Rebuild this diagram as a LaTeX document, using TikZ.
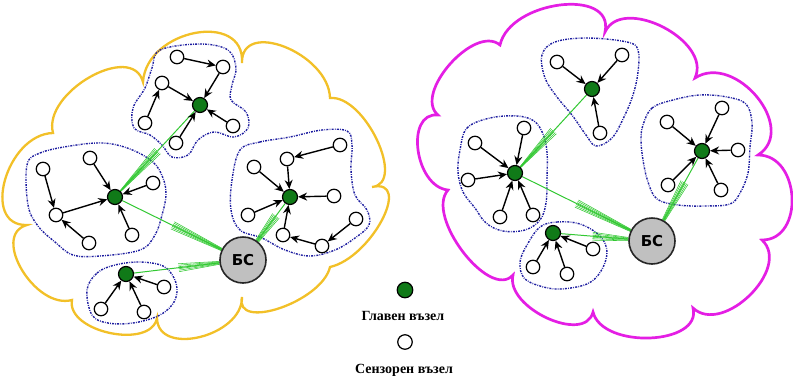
\documentclass[tikz,border=0pt]{standalone}
\usepackage{fontspec}
\setmainfont{Liberation Serif}
\newfontfamily\bsfont{DejaVu Sans}
\usetikzlibrary{arrows.meta,calc}
\pgfdeclarelayer{bg}
\pgfsetlayers{bg,main}
\definecolor{hgreen}{RGB}{16,122,24}
\definecolor{lgreen}{RGB}{50,200,50}
\definecolor{bsgray}{RGB}{192,192,192}
\definecolor{cblue}{RGB}{30,30,160}
\definecolor{cyellow}{RGB}{242,192,40}
\definecolor{cmag}{RGB}{228,30,228}
\tikzset{
  wnode/.style={circle,draw=black,fill=white,line width=1.2pt,minimum size=13.5pt,inner sep=0pt},
  gnode/.style={circle,draw=black,fill=hgreen,line width=1.2pt,minimum size=15pt,inner sep=0pt},
  bsnode/.style={circle,draw=black!85,fill=bsgray,line width=1.6pt,minimum size=46pt,inner sep=0pt,font=\bsfont\bfseries\fontsize{15}{15}\selectfont},
  arr/.style={-{Stealth[length=9pt,width=8pt,inset=3pt]},line width=1.4pt},
  glink/.style={draw=lgreen,line width=1pt},
  glinkthin/.style={draw=lgreen,line width=0.55pt},
  clust/.style={draw=cblue,line width=1.4pt,dash pattern=on 2pt off 1.2pt on 0.8pt off 1.2pt},
  cloudy/.style={draw=cyellow,line width=2.3pt},
  cloudm/.style={draw=cmag,line width=2.7pt},
  legtext/.style={font=\bfseries\fontsize{14}{15}\selectfont}
}
\newcommand\glinkfan[3]{%
  \draw[glink] (#1) -- (#2);
  \foreach \o in {-4pt,-2.5pt,-1pt,1pt,2.5pt,4pt}{
    \draw[glinkthin] (#1) -- ($(#1)!#3!(#2)!\o!90:(#2)$);
  }
}
\begin{document}
\begin{tikzpicture}[x=1pt,y=-1pt]
\useasboundingbox (0,0) rectangle (793,381);

% ---------- nodes: left cloud ----------
\node[gnode] (H1) at (200,105) {};
\node[wnode] (a1) at (177,57) {};
\node[wnode] (a2) at (223,67) {};
\node[wnode] (a3) at (162,83) {};
\node[wnode] (a4) at (145,123) {};
\node[wnode] (a5) at (176,143) {};
\node[wnode] (a6) at (233,126) {};

\node[gnode] (H2) at (115,197) {};
\node[wnode] (b1) at (90,158) {};
\node[wnode] (b2) at (43,169) {};
\node[wnode] (b3) at (153,183) {};
\node[wnode] (b4) at (56,215) {};
\node[wnode] (b5) at (89,243) {};
\node[wnode] (b6) at (132,235) {};

\node[gnode] (H3) at (290,197) {};
\node[wnode] (c1) at (254,167) {};
\node[wnode] (c2) at (287,159) {};
\node[wnode] (c3) at (340,145) {};
\node[wnode] (c4) at (334,196) {};
\node[wnode] (c5) at (248,215) {};
\node[wnode] (c6) at (283,235) {};
\node[wnode] (c7) at (322,246) {};
\node[wnode] (c8) at (356,219) {};

\node[gnode] (H4) at (126,274) {};
\node[wnode] (d1) at (164,287) {};
\node[wnode] (d2) at (101,309) {};
\node[wnode] (d3) at (144,312) {};

\node[bsnode] (BS1) at (243,260) {БС};

% ---------- nodes: right cloud ----------
\node[gnode] (G1) at (592,89) {};
\node[wnode] (e1) at (557,62) {};
\node[wnode] (e2) at (622,55) {};
\node[wnode] (e3) at (600,133) {};

\node[gnode] (G2) at (515,173) {};
\node[wnode] (f1) at (475,143) {};
\node[wnode] (f2) at (524,128) {};
\node[wnode] (f3) at (468,180) {};
\node[wnode] (f4) at (500,217) {};
\node[wnode] (f5) at (533,215) {};

\node[gnode] (G3) at (702,151) {};
\node[wnode] (g1) at (667,122) {};
\node[wnode] (g2) at (722,108) {};
\node[wnode] (g3) at (738,150) {};
\node[wnode] (g4) at (668,185) {};
\node[wnode] (g5) at (721,190) {};

\node[gnode] (G4) at (553,233) {};
\node[wnode] (h1) at (593,249) {};
\node[wnode] (h2) at (533,267) {};
\node[wnode] (h3) at (567,274) {};

\node[bsnode] (BS2) at (652,241) {БС};

% ---------- legend ----------
\node[gnode,minimum size=15.5pt] (L1) at (405,290) {};
\node[legtext] (T1) at (403,316) {Главен възел};
\node[wnode,minimum size=14.5pt] (L2) at (405,342) {};
\node[legtext] (T2) at (404,370) {Сензорен възел};

% ---------- arrows ----------
\draw[arr] (a1) -- (a2);
\draw[arr] (a2) -- (H1);
\draw[arr] (a3) -- (H1);
\draw[arr] (a4) -- (a3);
\draw[arr] (a5) -- (H1);
\draw[arr] (a6) -- (H1);

\draw[arr] (b1) -- (H2);
\draw[arr] (b2) -- (b4);
\draw[arr] (b4) -- (H2);
\draw[arr] (b5) -- (b4);
\draw[arr] (b3) -- (H2);
\draw[arr] (b6) -- (H2);

\draw[arr] (c1) -- (H3);
\draw[arr] (c3) -- (c2);
\draw[arr] (c2) -- (H3);
\draw[arr] (c4) -- (H3);
\draw[arr] (c5) -- (H3);
\draw[arr] (c6) -- (H3);
\draw[arr] (c7) -- (c6);
\draw[arr] (c8) -- (c7);

\draw[arr] (d1) -- (H4);
\draw[arr] (d2) -- (H4);
\draw[arr] (d3) -- (H4);

\foreach \n in {e1,e2,e3} \draw[arr] (\n) -- (G1);
\foreach \n in {f1,f2,f3,f4,f5} \draw[arr] (\n) -- (G2);
\foreach \n in {g1,g2,g3,g4,g5} \draw[arr] (\n) -- (G3);
\foreach \n in {h1,h2,h3} \draw[arr] (\n) -- (G4);

% ---------- background ----------
\begin{pgfonlayer}{bg}
% left cloud
\draw[cloudy] (53,133) .. controls (42.3,92.3) and (132.3,41.3) .. (143,82)
  .. controls (146.3,29.3) and (245.3,10.3) .. (242,63)
  .. controls (240.7,18.3) and (328.7,53.3) .. (330,98)
  .. controls (364.7,94.7) and (406.7,183.7) .. (372,187)
  .. controls (413.3,177.7) and (371.3,257.7) .. (330,267)
  .. controls (322,301.7) and (234,331.7) .. (242,297)
  .. controls (242.7,336.3) and (157.7,357.3) .. (157,318)
  .. controls (151,350) and (66,332) .. (72,300)
  .. controls (35.3,310) and (-9.7,235) .. (27,225)
  .. controls (-19.7,226.3) and (6.3,134.3) .. (53,133) -- cycle;
% right cloud
\draw[cloudm] (438,115) .. controls (412.7,93.7) and (474.7,23.7) .. (500,45)
  .. controls (510,0.3) and (615,-12.7) .. (605,32)
  .. controls (622.3,-5.3) and (712.3,40.7) .. (695,78)
  .. controls (735.7,52) and (798.7,129) .. (758,155)
  .. controls (800.7,155) and (804.7,240) .. (762,240)
  .. controls (792,268) and (723,336) .. (693,308)
  .. controls (702.3,345.3) and (602.3,349.3) .. (593,312)
  .. controls (585,344.7) and (505,307.7) .. (513,275)
  .. controls (489.7,301) and (424.7,216) .. (448,190)
  .. controls (414.7,186.7) and (404.7,111.7) .. (438,115) -- cycle;

% cluster outlines
\draw[clust] plot[smooth cycle,tension=0.6] coordinates {(160,50) (200,44) (228,50) (236,68) (232,85) (231,100) (246,112) (248,128) (234,137) (214,132) (198,140) (188,155) (172,157) (162,145) (150,135) (134,128) (133,108) (145,88) (152,68)};
\draw[clust] plot[smooth cycle,tension=0.6] coordinates {(27,165) (40,153) (70,146) (103,143) (130,149) (153,162) (163,178) (166,195) (162,215) (155,235) (140,250) (100,256) (73,255) (55,242) (38,226) (28,205)};
\draw[clust] plot[smooth cycle,tension=0.6] coordinates {(240,150) (260,142) (290,137) (322,130) (347,131) (352,145) (351,170) (355,195) (367,210) (369,225) (355,238) (335,250) (310,256) (285,250) (262,238) (240,230) (231,210) (232,180)};
\draw[clust] plot[smooth cycle,tension=0.6] coordinates {(87,290) (97,273) (115,265) (140,262) (163,266) (174,278) (177,292) (172,305) (158,316) (133,323) (108,323) (92,315)};

\draw[clust] plot[smooth cycle,tension=0.6] coordinates {(542,55) (555,42) (587,38) (627,42) (638,50) (638,72) (633,95) (624,117) (612,138) (596,146) (586,135) (572,115) (557,97) (545,78)};
\draw[clust] plot[smooth cycle,tension=0.6] coordinates {(460,150) (467,128) (490,118) (517,116) (534,121) (543,134) (547,152) (547,178) (546,203) (540,220) (525,230) (503,231) (486,223) (475,208) (463,192) (458,172)};
\draw[clust] plot[smooth cycle,tension=0.6] coordinates {(643,125) (652,108) (673,100) (700,95) (727,97) (746,104) (752,123) (750,147) (748,173) (740,193) (730,204) (705,206) (678,205) (657,199) (648,182) (643,160) (641,140)};
\draw[clust] plot[smooth cycle,tension=0.6] coordinates {(540,227) (557,222) (580,224) (600,236) (607,252) (601,271) (587,284) (560,289) (540,286) (524,278) (520,262) (527,245)};

% green links
\glinkfan{H2}{H1}{0.5}
\glinkfan{BS1}{H2}{0.55}
\glinkfan{BS1}{H4}{0.55}
\glinkfan{BS1}{H3}{0.7}
\glinkfan{G2}{G1}{0.5}
\glinkfan{BS2}{G2}{0.55}
\glinkfan{BS2}{G4}{0.6}
\glinkfan{BS2}{G3}{0.65}
\end{pgfonlayer}
\end{tikzpicture}
\end{document}
